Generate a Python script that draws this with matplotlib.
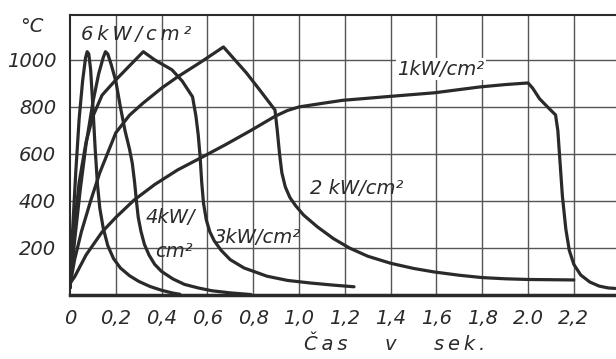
import matplotlib
matplotlib.use("Agg")
import matplotlib.pyplot as plt

# ---- data (time in s, temperature in °C) ----
t_6kw = [0.0, 0.01, 0.025, 0.04, 0.055, 0.068, 0.075, 0.082, 0.09, 0.10, 0.11, 0.12, 0.13, 0.145,
         0.165, 0.19, 0.22, 0.26, 0.30, 0.35, 0.40, 0.45, 0.48]
T_6kw = [30, 250, 520, 750, 910, 1010, 1035, 1025, 960, 800, 620, 470, 370, 285,
         210, 155, 115, 82, 58, 36, 20, 8, 3]

t_4kw = [0.0, 0.02, 0.045, 0.07, 0.10, 0.125, 0.145, 0.155, 0.165, 0.18, 0.20, 0.22, 0.24, 0.26,
         0.272, 0.282, 0.29, 0.298, 0.31, 0.325, 0.345, 0.37, 0.40, 0.45, 0.50, 0.56, 0.62, 0.70, 0.79]
T_4kw = [30, 230, 450, 640, 820, 940, 1010, 1035, 1025, 980, 910, 800, 700, 620,
         560, 480, 400, 330, 270, 215, 170, 130, 100, 68, 45, 30, 18, 9, 2]

t_3kw = [0.0, 0.015, 0.04, 0.07, 0.10, 0.14, 0.20, 0.26, 0.32, 0.37, 0.445, 0.49, 0.535, 0.55,
         0.56, 0.568, 0.575, 0.583, 0.595, 0.61, 0.63, 0.66, 0.70, 0.76, 0.86, 0.95, 1.05, 1.15, 1.24]
T_3kw = [30, 250, 480, 650, 760, 850, 915, 975, 1035, 1000, 958, 910, 843, 760,
         680, 590, 480, 390, 320, 270, 230, 190, 150, 115, 80, 62, 51, 42, 35]

t_2kw = [0.0, 0.02, 0.05, 0.09, 0.13, 0.20, 0.26, 0.32, 0.40, 0.47, 0.57, 0.67, 0.72, 0.77, 0.83,
         0.895, 0.905, 0.915, 0.925, 0.94, 0.96, 0.985, 1.02, 1.08, 1.15, 1.22, 1.30, 1.40, 1.50,
         1.59, 1.70, 1.80, 1.90, 2.00, 2.10, 2.20]
T_2kw = [40, 150, 270, 400, 520, 690, 765, 817, 880, 928, 990, 1055, 1000, 945, 870,
         787, 700, 600, 520, 460, 415, 380, 340, 290, 240, 200, 165, 135, 113,
         98, 84, 74, 69, 66, 65, 64]

t_1kw = [0.0, 0.02, 0.07, 0.14, 0.20, 0.28, 0.37, 0.47, 0.58, 0.68, 0.79, 0.895, 0.95, 1.0, 1.10,
         1.19, 1.40, 1.59, 1.79, 1.90, 2.0, 2.02, 2.05, 2.09, 2.12, 2.13, 2.14, 2.15, 2.165, 2.18,
         2.20, 2.23, 2.27, 2.31, 2.35, 2.38]
T_1kw = [50, 77, 170, 268, 330, 404, 470, 532, 588, 640, 700, 760, 785, 800, 815,
         828, 845, 860, 885, 895, 902, 880, 835, 795, 766, 700, 560, 420, 280, 190,
         130, 85, 55, 38, 30, 28]

x_ticks = [0, 0.2, 0.4, 0.6, 0.8, 1.0, 1.2, 1.4, 1.6, 1.8, 2.0, 2.2]
x_ticklabels = ["0", "0,2", "0,4", "0,6", "0,8", "1,0", "1,2", "1,4", "1,6", "1,8", "2.0", "2,2"]
y_ticks = [200, 400, 600, 800, 1000]
y_ticklabels = ["200", "400", "600", "800", "1000"]

ts = "\u2009"
curve_labels = [ts.join("6kW/cm²"), "4kW/", "cm²", "3kW/cm²", "2 kW/cm²", "1kW/cm²"]
x_label = ts.join("Čas") + "      v      " + ts.join("sek.")

plt.rcParams['font.family'] = ['DejaVu Sans']
fig = plt.figure(figsize=(6.16, 3.59), dpi=100)
ax = fig.add_axes([70/616, 1-295/359, 1-70/616, (295-15)/359])
ax.set_xlim(0, 2.384)
ax.set_ylim(0, 1191)

ink = "#2a2a2a"
for t, T in [(t_6kw, T_6kw), (t_4kw, T_4kw), (t_3kw, T_3kw), (t_2kw, T_2kw), (t_1kw, T_1kw)]:
    ax.plot(t, T, color=ink, lw=2.3, solid_joinstyle='round', solid_capstyle='round', zorder=3)

for x in x_ticks[1:]:
    ax.axvline(x, color="#555555", lw=1.0, zorder=1)
for y in y_ticks:
    ax.axhline(y, color="#555555", lw=1.0, zorder=1)

ax.set_xticks(x_ticks)
ax.set_xticklabels(x_ticklabels, fontsize=14, style='italic', color=ink)
ax.set_yticks(y_ticks)
ax.set_yticklabels(y_ticklabels, fontsize=14, style='italic', color=ink)
ax.tick_params(axis='x', length=0, pad=10)
ax.tick_params(axis='y', length=0, pad=10)

for s in ['left', 'top']:
    ax.spines[s].set_linewidth(1.5)
    ax.spines[s].set_color(ink)
ax.spines['bottom'].set_linewidth(2.5)
ax.spines['bottom'].set_color(ink)
ax.spines['right'].set_visible(False)

tkw = dict(fontsize=14, style='italic', color=ink, zorder=4)
ax.text(0.05, 1110, curve_labels[0], ha='left', va='center', **tkw)
ax.text(0.33, 330, curve_labels[1], ha='left', va='center', **tkw)
ax.text(0.37, 183, curve_labels[2], ha='left', va='center', **tkw)
ax.text(0.63, 243, curve_labels[3], ha='left', va='center', **tkw)
ax.text(1.05, 455, curve_labels[4], ha='left', va='center', **tkw)
ax.text(1.43, 960, curve_labels[5], ha='left', va='center',
        bbox=dict(facecolor='white', edgecolor='none', pad=1), **tkw)

fig.text(32/616, 1-27/359, "°C", ha='center', va='center', fontsize=14, style='italic', color=ink)
fig.text(395/616, 1-345/359, x_label, ha='center', va='center', fontsize=14, style='italic', color=ink)

fig.savefig("out.png", dpi=100, facecolor='white')
